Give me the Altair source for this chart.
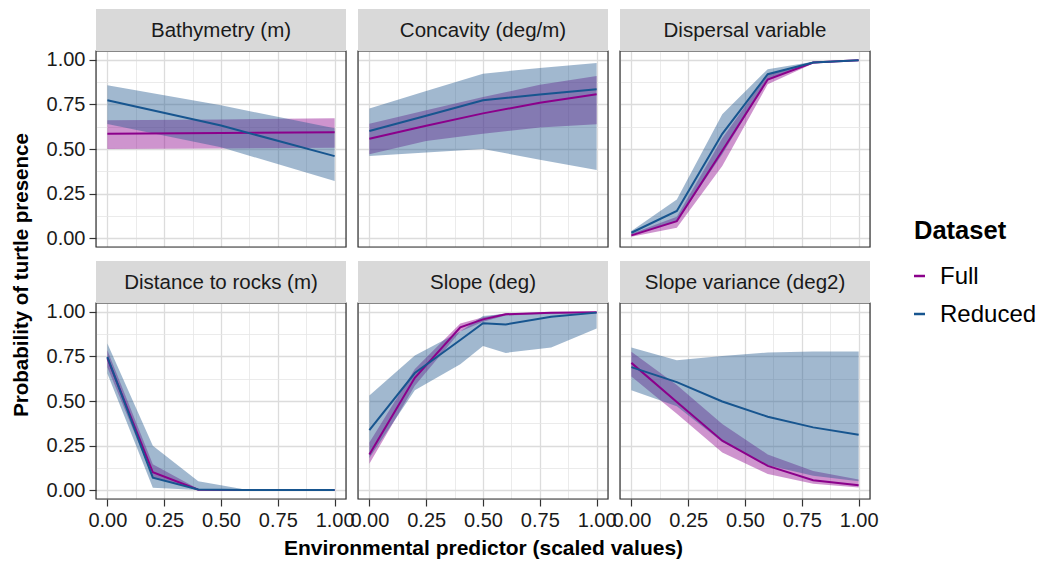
import altair as alt
import pandas as pd

# ---------------- data ----------------
PANELS = ["Bathymetry (m)", "Concavity (deg/m)", "Dispersal variable",
          "Distance to rocks (m)", "Slope (deg)", "Slope variance (deg2)"]
DATASETS = ["Full", "Reduced"]

BATHY_X = [0.0, 0.5, 1.0]
BATHY_FULL_Y = [0.586, 0.590, 0.594]
BATHY_FULL_LO = [0.500, 0.503, 0.507]
BATHY_FULL_HI = [0.661, 0.666, 0.672]
BATHY_RED_Y = [0.774, 0.632, 0.460]
BATHY_RED_LO = [0.640, 0.510, 0.320]
BATHY_RED_HI = [0.858, 0.745, 0.616]

CONC_X = [0.0, 0.25, 0.5, 0.75, 1.0]
CONC_FULL_Y = [0.558, 0.630, 0.700, 0.760, 0.807]
CONC_FULL_LO = [0.470, 0.545, 0.586, 0.620, 0.639]
CONC_FULL_HI = [0.642, 0.717, 0.792, 0.860, 0.910]
CONC_RED_Y = [0.601, 0.687, 0.773, 0.806, 0.835]
CONC_RED_LO = [0.461, 0.480, 0.500, 0.440, 0.382]
CONC_RED_HI = [0.727, 0.826, 0.923, 0.955, 0.983]

DISP_X = [0.0, 0.2, 0.4, 0.6, 0.8, 1.0]
DISP_FULL_Y = [0.015, 0.095, 0.490, 0.890, 0.985, 0.998]
DISP_FULL_LO = [0.008, 0.058, 0.404, 0.863, 0.980, 0.997]
DISP_FULL_HI = [0.025, 0.120, 0.560, 0.920, 0.990, 0.999]
DISP_RED_Y = [0.030, 0.152, 0.585, 0.920, 0.985, 0.998]
DISP_RED_LO = [0.020, 0.095, 0.470, 0.890, 0.980, 0.997]
DISP_RED_HI = [0.040, 0.217, 0.695, 0.948, 0.990, 0.999]

ROCK_X = [0.0, 0.2, 0.4, 0.6, 0.8, 1.0]
ROCK_FULL_Y = [0.740, 0.100, 0.002, 0.000, 0.000, 0.000]
ROCK_FULL_LO = [0.690, 0.070, 0.000, 0.000, 0.000, 0.000]
ROCK_FULL_HI = [0.785, 0.145, 0.006, 0.001, 0.000, 0.000]
ROCK_RED_Y = [0.748, 0.070, 0.004, 0.000, 0.000, 0.000]
ROCK_RED_LO = [0.654, 0.013, 0.000, 0.000, 0.000, 0.000]
ROCK_RED_HI = [0.823, 0.249, 0.050, 0.005, 0.001, 0.000]

SLOPE_X = [0.0, 0.2, 0.4, 0.5, 0.6, 0.8, 1.0]
SLOPE_FULL_Y = [0.200, 0.630, 0.913, 0.958, 0.987, 0.995, 0.998]
SLOPE_FULL_LO = [0.148, 0.585, 0.890, 0.945, 0.980, 0.990, 0.997]
SLOPE_FULL_HI = [0.267, 0.680, 0.935, 0.970, 0.992, 0.997, 0.999]
SLOPE_RED_Y = [0.337, 0.657, 0.842, 0.936, 0.930, 0.973, 0.996]
SLOPE_RED_LO = [0.180, 0.560, 0.706, 0.808, 0.770, 0.800, 0.907]
SLOPE_RED_HI = [0.531, 0.755, 0.890, 0.977, 0.990, 0.995, 0.996]

SVAR_X = [0.0, 0.2, 0.4, 0.6, 0.8, 1.0]
SVAR_FULL_Y = [0.714, 0.494, 0.277, 0.136, 0.055, 0.027]
SVAR_FULL_LO = [0.638, 0.428, 0.211, 0.090, 0.035, 0.015]
SVAR_FULL_HI = [0.776, 0.590, 0.371, 0.200, 0.107, 0.060]
SVAR_RED_Y = [0.690, 0.606, 0.497, 0.412, 0.352, 0.311]
SVAR_RED_LO = [0.560, 0.470, 0.270, 0.140, 0.080, 0.050]
SVAR_RED_HI = [0.800, 0.729, 0.753, 0.772, 0.778, 0.778]

GRID = [0.0, 0.125, 0.25, 0.375, 0.5, 0.625, 0.75, 0.875, 1.0]

SERIES = {
    PANELS[0]: (BATHY_X, [(BATHY_FULL_Y, BATHY_FULL_LO, BATHY_FULL_HI), (BATHY_RED_Y, BATHY_RED_LO, BATHY_RED_HI)]),
    PANELS[1]: (CONC_X, [(CONC_FULL_Y, CONC_FULL_LO, CONC_FULL_HI), (CONC_RED_Y, CONC_RED_LO, CONC_RED_HI)]),
    PANELS[2]: (DISP_X, [(DISP_FULL_Y, DISP_FULL_LO, DISP_FULL_HI), (DISP_RED_Y, DISP_RED_LO, DISP_RED_HI)]),
    PANELS[3]: (ROCK_X, [(ROCK_FULL_Y, ROCK_FULL_LO, ROCK_FULL_HI), (ROCK_RED_Y, ROCK_RED_LO, ROCK_RED_HI)]),
    PANELS[4]: (SLOPE_X, [(SLOPE_FULL_Y, SLOPE_FULL_LO, SLOPE_FULL_HI), (SLOPE_RED_Y, SLOPE_RED_LO, SLOPE_RED_HI)]),
    PANELS[5]: (SVAR_X, [(SVAR_FULL_Y, SVAR_FULL_LO, SVAR_FULL_HI), (SVAR_RED_Y, SVAR_RED_LO, SVAR_RED_HI)]),
}

rows = []
for p in PANELS:
    xs, sets = SERIES[p]
    for ds, (ys, los, his) in zip(DATASETS, sets):
        for x, y, lo, hi in zip(xs, ys, los, his):
            rows.append({"panel": p, "Dataset": ds, "band": ds, "x": x, "y": y, "lo": lo, "hi": hi})
df = pd.DataFrame(rows)

# ---------------- styling ----------------
FONT = "Liberation Sans"
W, H = 250, 196
STRIP_H = 42
LINE_COLORS = ["#8B008B", "#17558F"]
FILL_COLORS = ["#8B008B", "#1E558C"]
DOM = [-0.05, 1.05]
STROKE_SCALE = alt.Scale(domain=DATASETS, range=LINE_COLORS)

major_test = "(datum.value * 4) % 1 === 0"
grid_color = {"condition": {"test": major_test, "value": "#DCDCDC"}, "value": "#E6E6E6"}
grid_width = {"condition": {"test": major_test, "value": 1.3}, "value": 0.8}
tick_color = {"condition": {"test": major_test, "value": "#333333"}, "value": "transparent"}
label_expr = f"{major_test} ? format(datum.value, '.2f') : ''"


def make_axis(show, title=None):
    common = dict(values=GRID, grid=True, gridColor=grid_color, gridWidth=grid_width,
                  domain=False)
    if show:
        return alt.Axis(labels=True, labelExpr=label_expr, ticks=True, tickColor=tick_color,
                        tickSize=7, tickWidth=1.2, labelFontSize=20, labelColor="#1A1A1A",
                        labelFont=FONT, labelPadding=4, labelOverlap=False, labelBound=False,
                        labelFlush=False,
                        title=title, titleFont=FONT, titleFontSize=21, titleFontWeight="bold",
                        titleColor="#000000", titlePadding=7, **common)
    return alt.Axis(labels=False, ticks=False, title=None, **common)


def legend_layers():
    # drawn to the right of the top-right panel (positions relative to that panel)
    out = [alt.Chart(pd.DataFrame({"t": ["Dataset"]})).mark_text(
        font=FONT, fontSize=25.5, fontWeight="bold", color="#000000", align="left",
        baseline="middle").encode(x=alt.value(294), y=alt.value(180), text="t:N")]
    for i, ds in enumerate(DATASETS):
        d = pd.DataFrame({"Dataset": [ds]})
        out.append(alt.Chart(d).mark_rule(strokeWidth=2.5).encode(
            x=alt.value(294), x2=alt.value(305), y=alt.value(225 + 38 * i),
            stroke=alt.Stroke("Dataset:N", scale=STROKE_SCALE, legend=None)))
        out.append(alt.Chart(d).mark_text(
            font=FONT, fontSize=24, color="#000000", align="left", baseline="middle").encode(
            x=alt.value(320), y=alt.value(225 + 38 * i + 1), text="Dataset:N"))
    return out


def panel(name, r, c):
    d = df[df.panel == name]
    xaxis = make_axis(r == 1, "Environmental predictor (scaled values)" if (r == 1 and c == 1) else None)
    yaxis = make_axis(c == 0)
    xenc = alt.X("x:Q", scale=alt.Scale(domain=DOM, nice=False, zero=False), axis=xaxis)
    yscale = alt.Scale(domain=DOM, nice=False, zero=False)
    base = alt.Chart(d)
    area = base.mark_area(opacity=0.42).encode(
        x=xenc,
        y=alt.Y("lo:Q", scale=yscale, axis=yaxis),
        y2="hi:Q",
        fill=alt.Fill("band:N", scale=alt.Scale(domain=DATASETS, range=FILL_COLORS), legend=None),
    )
    line = base.mark_line(strokeWidth=2).encode(
        x=xenc,
        y=alt.Y("y:Q", scale=yscale, axis=yaxis),
        stroke=alt.Stroke("Dataset:N", scale=STROKE_SCALE, legend=None),
    )
    lab = pd.DataFrame({"t": [name]})
    border = alt.Chart(lab).mark_rect(filled=False, stroke="#333333", strokeWidth=1.2).encode(
        x=alt.value(0), x2=alt.value(W), y=alt.value(0), y2=alt.value(H))
    strip = alt.Chart(lab).mark_rect(fill="#D9D9D9").encode(
        x=alt.value(0), x2=alt.value(W), y=alt.value(-STRIP_H), y2=alt.value(0))
    stext = alt.Chart(lab).mark_text(font=FONT, fontSize=20.5, color="#1A1A1A",
                                     baseline="middle", align="center").encode(
        x=alt.value(W / 2), y=alt.value(-STRIP_H / 2 + 1), text="t:N")
    layers = [area, line, border, strip, stext]
    if r == 1 and c == 0:
        ytitle = alt.Chart(pd.DataFrame({"t": ["Probability of turtle presence"]})).mark_text(
            font=FONT, fontSize=20.5, fontWeight="bold", color="#000000", angle=270,
            baseline="middle", align="center").encode(
            x=alt.value(-74), y=alt.value(-28), text="t:N")
        layers.append(ytitle)
    if r == 0 and c == 2:
        layers += legend_layers()
    return alt.layer(*layers).properties(width=W, height=H)


panels = [panel(PANELS[i], i // 3, i % 3) for i in range(6)]

chart = alt.concat(*panels, columns=3, spacing={"row": 56, "column": 12}, bounds="flush").resolve_scale(
    stroke="shared", fill="shared"
).properties(
    padding={"left": 11, "top": 8, "right": 2, "bottom": 3}
).configure_view(
    stroke="transparent", fill="white"
).configure(background="white")

chart.save("out.html", embed_options={"renderer": "svg", "actions": False})
